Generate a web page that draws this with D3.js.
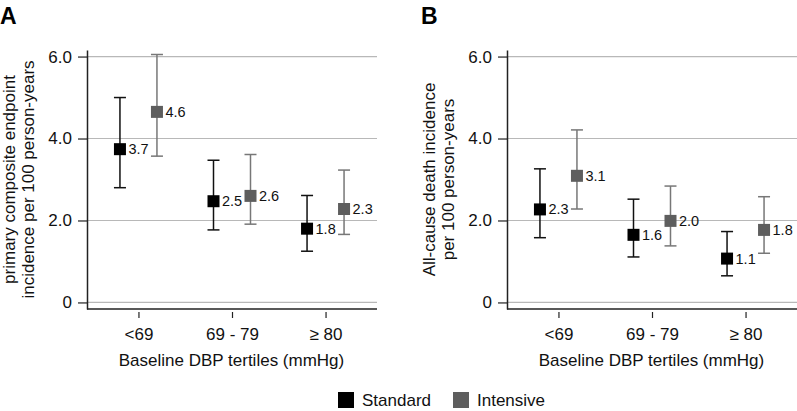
<!DOCTYPE html>
<html>
<head>
<meta charset="utf-8">
<script src="https://cdn.jsdelivr.net/npm/d3@7"></script>
<style>
  body { margin: 0; background: #fff; }
  svg { font-family: "Liberation Sans", Arial, sans-serif; }
</style>
</head>
<body>
<svg id="chart" width="797" height="411"></svg>
<script>
// Data
var categories = ["<69", "69 - 79", "\u2265 80"];
var seriesNames = ["Standard", "Intensive"];

// Panel A: primary composite endpoint
var aStandard = [3.74, 2.47, 1.80];
var aStandardLo = [2.80, 1.77, 1.25];
var aStandardHi = [5.00, 3.47, 2.61];
var aIntensive = [4.65, 2.60, 2.28];
var aIntensiveLo = [3.57, 1.91, 1.66];
var aIntensiveHi = [6.05, 3.61, 3.23];
var aLabels = [["3.7", "2.5", "1.8"], ["4.6", "2.6", "2.3"]];

// Panel B: all-cause death
var bStandard = [2.27, 1.65, 1.07];
var bStandardLo = [1.58, 1.11, 0.65];
var bStandardHi = [3.26, 2.52, 1.73];
var bIntensive = [3.09, 1.99, 1.77];
var bIntensiveLo = [2.28, 1.38, 1.20];
var bIntensiveHi = [4.21, 2.84, 2.58];
var bLabels = [["2.3", "1.6", "1.1"], ["3.1", "2.0", "1.8"]];

var yTicks = [0, 2, 4, 6];
var colors = { Standard: "#000", Intensive: "#5e5e5e" };
var barColors = { Standard: "#111", Intensive: "#777" };

var svg = d3.select("#chart");

var plotW = 290, plotTop = 50, plotBottom = 309;
var fs = 17;

var y = d3.scaleLinear().domain([-0.16, 6.16]).range([plotBottom, plotTop]);

function drawPanel(left, letter, titleLines, std, stdLo, stdHi, ints, intLo, intHi, labels) {
  var g = svg.append("g").attr("transform", "translate(" + left + ",0)");

  var x = d3.scalePoint().domain(categories).range([0, plotW]).padding(0.55);

  // gridlines
  g.selectAll(".grid").data(yTicks).enter().append("line")
    .attr("x1", 0).attr("x2", plotW)
    .attr("y1", function(d) { return y(d); })
    .attr("y2", function(d) { return y(d); })
    .attr("stroke", "#b8b8b8").attr("stroke-width", 1.2);

  // y axis
  var yAxis = g.append("g")
    .call(d3.axisLeft(y).tickValues(yTicks).tickSize(9).tickSizeOuter(0).tickPadding(6)
      .tickFormat(function(d) { return d === 0 ? "0" : d3.format(".1f")(d); }));
  yAxis.attr("font-size", null).attr("font-family", null);
  yAxis.select(".domain").attr("stroke", "#222").attr("stroke-width", 1.5);
  yAxis.selectAll(".tick line").attr("stroke", "#222").attr("stroke-width", 1.2);
  yAxis.selectAll("text").attr("font-size", fs).attr("fill", "#111");

  // x axis
  var xAxis = g.append("g").attr("transform", "translate(0," + plotBottom + ")")
    .call(d3.axisBottom(x).tickSize(0).tickSizeOuter(0).tickPadding(19));
  xAxis.attr("font-size", null).attr("font-family", null);
  xAxis.select(".domain").attr("stroke", "#222").attr("stroke-width", 1.5)
    .attr("d", "M0,0H" + plotW);
  xAxis.selectAll(".tick").append("line")
    .attr("y1", 3).attr("y2", 9).attr("stroke", "#222").attr("stroke-width", 1.2);
  xAxis.selectAll("text").attr("font-size", fs).attr("fill", "#111");

  g.append("text")
    .attr("x", plotW / 2 - 0.5).attr("y", 366)
    .attr("text-anchor", "middle").attr("font-size", fs).attr("fill", "#111")
    .text("Baseline DBP tertiles (mmHg)");

  // y title
  var yt = g.append("text")
    .attr("transform", "translate(" + (-72) + "," + ((y(0) + y(6)) / 2) + ") rotate(-90)")
    .attr("text-anchor", "middle").attr("font-size", fs).attr("fill", "#111");
  titleLines.forEach(function(t, i) {
    yt.append("tspan").attr("x", 0).attr("dy", i === 0 ? 0 : 19).text(t);
  });

  // panel letter
  svg.append("text").attr("x", left - 87 + (letter === "A" ? 0 : 1)).attr("y", 24)
    .attr("font-size", 23).attr("font-weight", "bold").text(letter);

  var series = [
    { name: "Standard", off: -18.5, v: std, lo: stdLo, hi: stdHi, lab: labels[0] },
    { name: "Intensive", off: 18.5, v: ints, lo: intLo, hi: intHi, lab: labels[1] }
  ];

  series.forEach(function(s) {
    var pts = categories.map(function(c, i) {
      return { cx: x(c) + s.off, v: s.v[i], lo: s.lo[i], hi: s.hi[i], lab: s.lab[i] };
    });
    var sg = g.append("g");
    var col = barColors[s.name];
    sg.selectAll(".stem").data(pts).enter().append("line")
      .attr("x1", function(d) { return d.cx; }).attr("x2", function(d) { return d.cx; })
      .attr("y1", function(d) { return y(d.lo); }).attr("y2", function(d) { return y(d.hi); })
      .attr("stroke", col).attr("stroke-width", 1.5);
    ["lo", "hi"].forEach(function(k) {
      sg.selectAll(".cap-" + k).data(pts).enter().append("line")
        .attr("x1", function(d) { return d.cx - 6; }).attr("x2", function(d) { return d.cx + 6; })
        .attr("y1", function(d) { return y(d[k]); }).attr("y2", function(d) { return y(d[k]); })
        .attr("stroke", col).attr("stroke-width", 1.5);
    });
    sg.selectAll("rect").data(pts).enter().append("rect")
      .attr("x", function(d) { return d.cx - 6; })
      .attr("y", function(d) { return y(d.v) - 6; })
      .attr("width", 12).attr("height", 12)
      .attr("fill", colors[s.name]);
    sg.selectAll("text").data(pts).enter().append("text")
      .attr("x", function(d) { return d.cx + 8.5; })
      .attr("y", function(d) { return y(d.v) + 5; })
      .attr("font-size", 14.5).attr("fill", "#111")
      .text(function(d) { return d.lab; });
  });
}

drawPanel(87, "A", ["primary composite endpoint", "incidence per 100 person-years"],
  aStandard, aStandardLo, aStandardHi, aIntensive, aIntensiveLo, aIntensiveHi, aLabels);
drawPanel(507, "B", ["All-cause death incidence", "per 100 person-years"],
  bStandard, bStandardLo, bStandardHi, bIntensive, bIntensiveLo, bIntensiveHi, bLabels);

// legend
var legend = svg.append("g");
var legendX = [338, 453];
seriesNames.forEach(function(n, i) {
  legend.append("rect").attr("x", legendX[i]).attr("y", 392)
    .attr("width", 16).attr("height", 16).attr("fill", colors[n]);
  legend.append("text").attr("x", legendX[i] + 24).attr("y", 406)
    .attr("font-size", fs).attr("fill", "#111").text(n);
});
</script>
</body>
</html>
